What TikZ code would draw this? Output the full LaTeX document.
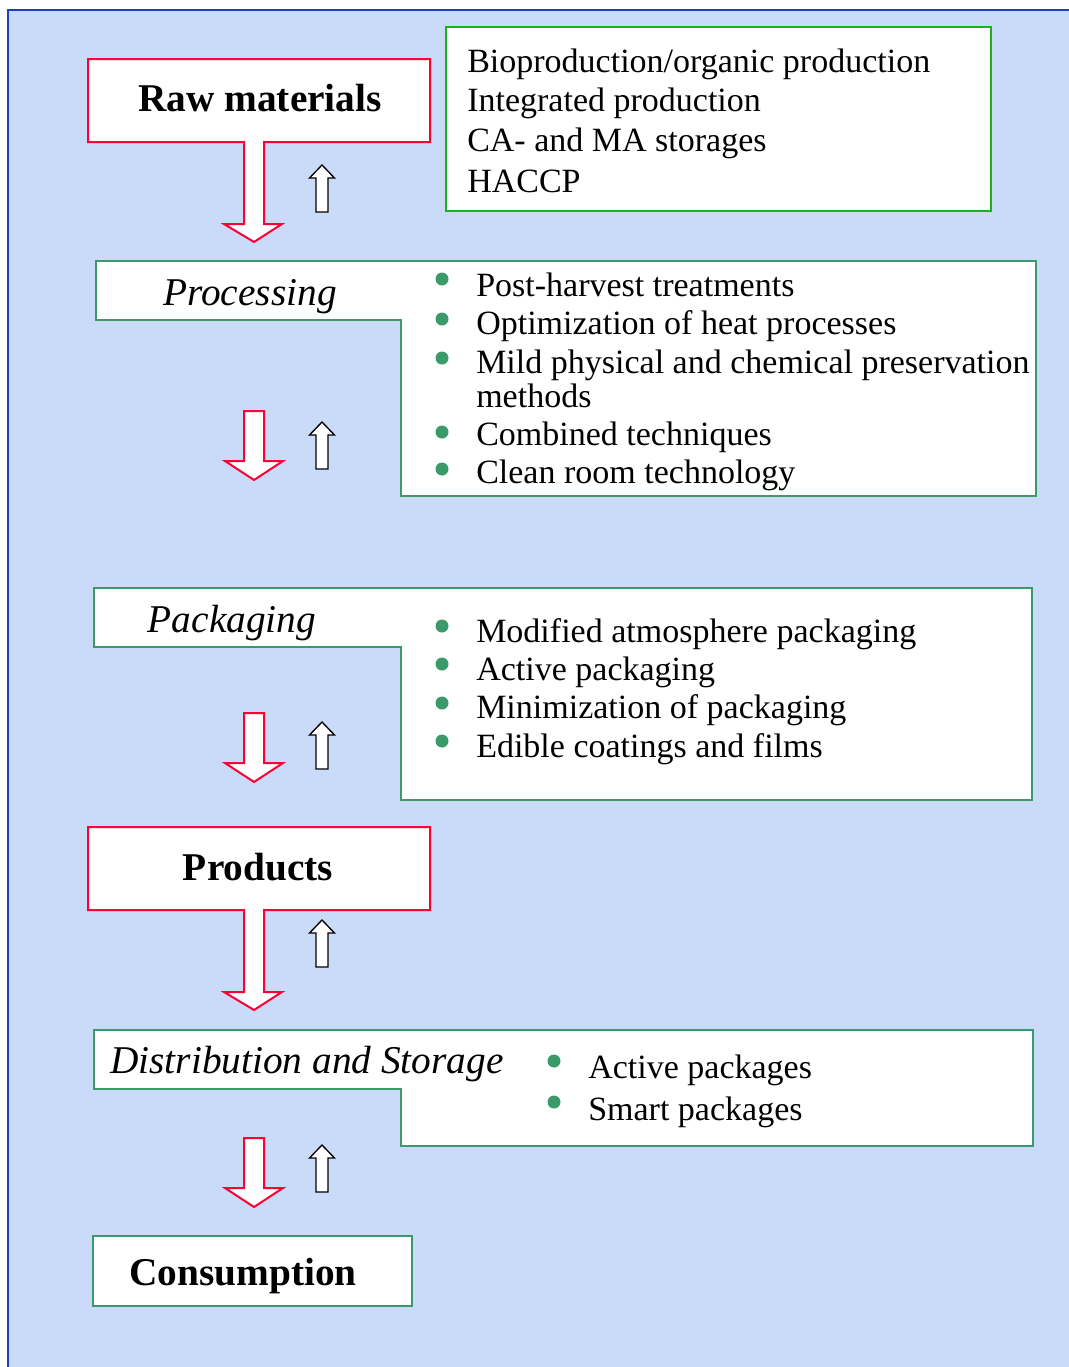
\documentclass[tikz,border=0pt]{standalone}
\usepackage{fontspec}
\setmainfont{Liberation Serif}
\usepackage{xcolor}
\usepackage{tikz}
\definecolor{bgblue}{HTML}{CADBFA}
\definecolor{edgeblue}{HTML}{1F3FBF}
\definecolor{redc}{HTML}{FF0033}
\definecolor{brightgreen}{HTML}{1DAF1D}
\definecolor{seagreen}{HTML}{3A9A6A}

\begin{document}
\begin{tikzpicture}[x=0.75pt, y=-0.75pt,
	every node/.style={inner sep=0pt},
	item/.style={anchor=base west, font=\fontsize{25.5}{30}\selectfont},
	title/.style={anchor=base, font=\fontsize{29.5}{34}\selectfont\bfseries},
	stage/.style={anchor=base, font=\fontsize{29.5}{34}\selectfont\itshape},
	redbox/.style={draw=redc, line width=1.5pt, fill=white, line join=miter},
	greenbox/.style={draw=brightgreen, line width=1.5pt, fill=white},
	seabox/.style={draw=seagreen, line width=1.5pt, fill=white},
	dot/.style={fill=seagreen},
	downarrow/.pic={\draw[redbox] (-10,0) -- (10,0) -- (10,50) -- (29,50) -- (0,69) -- (-29,50) -- (-10,50) -- cycle;},
	uparrow/.pic={\draw[black, line width=1pt, fill=white] (0,0) -- (12.5,13) -- (6,13) -- (6,47) -- (-6,47) -- (-6,13) -- (-12.5,13) -- cycle;}]
			\useasboundingbox (0,0) rectangle (1069,1367);
			% Background
			\fill[bgblue] (8,10) rectangle (1069,1367);
			\draw[edgeblue, line width=1pt] (1069,10) -- (8,10) -- (8,1367);
			% Boxes
			\draw[redbox] (88,59) -- (430,59) -- (430,142) -- (264,142) -- (264,224) -- (282,224) -- (254,242) -- (224,224) -- (244,224) -- (244,142) -- (88,142) -- cycle;
			\draw[greenbox] (446,27) rectangle (991,211);
			\draw[seabox] (96,261) -- (1036,261) -- (1036,496) -- (401,496) -- (401,320) -- (96,320) -- cycle;
			\draw[seabox] (94,588) -- (1032,588) -- (1032,800) -- (401,800) -- (401,647) -- (94,647) -- cycle;
			\draw[redbox] (88,827) -- (430,827) -- (430,910) -- (264,910) -- (264,992) -- (282,992) -- (254,1010) -- (224,992) -- (244,992) -- (244,910) -- (88,910) -- cycle;
			\draw[seabox] (94,1030) -- (1033,1030) -- (1033,1146) -- (401,1146) -- (401,1089) -- (94,1089) -- cycle;
			\draw[seabox] (93,1236) rectangle (412,1306);
			% Arrows
			\pic at (322,165) {uparrow};
			\pic at (254,411) {downarrow};
			\pic at (322,422) {uparrow};
			\pic at (254,713) {downarrow};
			\pic at (322,722) {uparrow};
			\pic at (322,920) {uparrow};
			\pic at (254,1138) {downarrow};
			\pic at (322,1145) {uparrow};
			% Nodes
			\node[title] (raw) at (260,111) {Raw materials};
			\node[item] (bio) at (467,72) {Bioproduction/organic production};
			\node[item] (integ) at (467,111) {Integrated production};
			\node[item] (store) at (467,151) {CA- and MA storages};
			\node[item] (haccp) at (467,192) {HACCP};
			\node[stage] (proc) at (250,305) {Processing};
			\node[item] (post) at (476,296) {Post-harvest treatments};
			\node[item] (heat) at (476,334) {Optimization of heat processes};
			\node[item] (mild) at (476,373) {Mild physical and chemical preservation};
			\node[item] (meth) at (476,407) {methods};
			\node[item] (comb) at (476,445) {Combined techniques};
			\node[item] (clean) at (476,483) {Clean room technology};
			\node[stage] (pack) at (232,632) {Packaging};
			\node[item] (map) at (476,642) {Modified atmosphere packaging};
			\node[item] (act) at (476,680) {Active packaging};
			\node[item] (mini) at (476,718) {Minimization of packaging};
			\node[item] (edib) at (476,757) {Edible coatings and films};
			\node[title] (prod) at (258,880) {Products};
			\node[stage, anchor=base west] (dist) at (110,1073) {Distribution and Storage};
			\node[item] (actp) at (588,1078) {Active packages};
			\node[item] (smart) at (588,1120) {Smart packages};
			\node[title] (cons) at (243,1285) {Consumption};
			% Bullets
			\fill[dot] (442,279) circle [radius=6.5];
			\fill[dot] (442,319) circle [radius=6.5];
			\fill[dot] (442,358) circle [radius=6.5];
			\fill[dot] (442,432) circle [radius=6.5];
			\fill[dot] (442,469) circle [radius=6.5];
			\fill[dot] (442,626) circle [radius=6.5];
			\fill[dot] (442,664) circle [radius=6.5];
			\fill[dot] (442,703) circle [radius=6.5];
			\fill[dot] (442,741) circle [radius=6.5];
			\fill[dot] (554,1061) circle [radius=6.5];
			\fill[dot] (554,1102) circle [radius=6.5];
		\end{tikzpicture}
\end{document}
